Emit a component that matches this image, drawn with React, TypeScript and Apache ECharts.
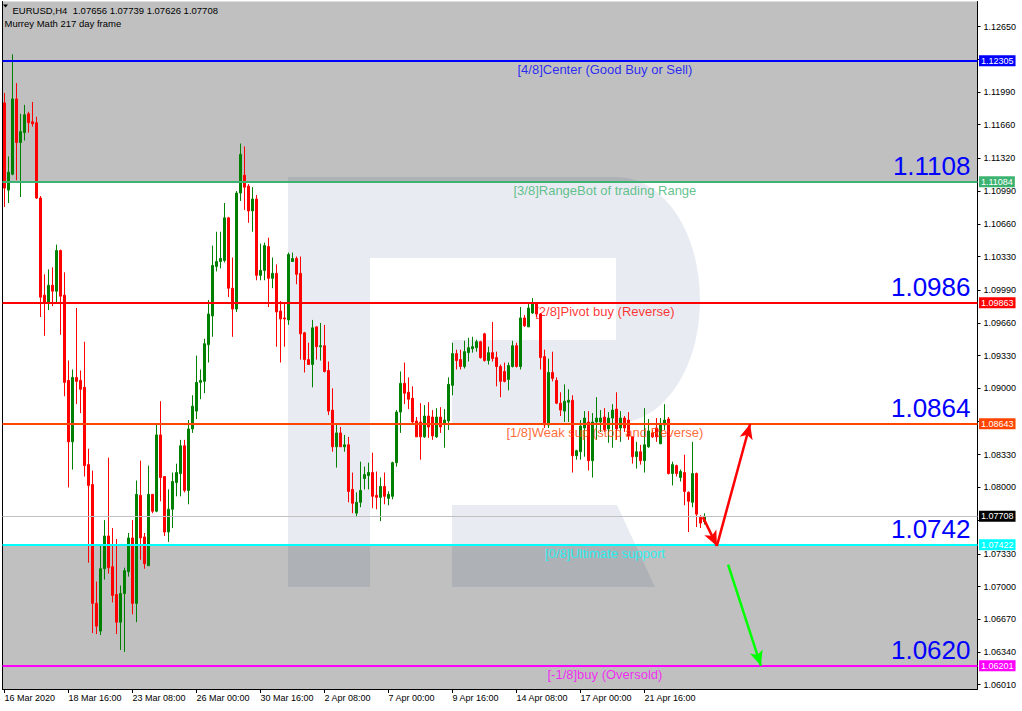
import React, { useEffect, useRef } from "react";
import * as echarts from "echarts";

// EURUSD H4 bars, 16 Mar 2020 00:00 onwards
const OPEN = [
  1.1188, 1.11, 1.1116, 1.1192, 1.1148, 1.1158, 1.1177, 1.1169, 1.1168, 1.1092,
  1.0994, 1.0987, 1.1004, 1.0998, 1.1039, 1.0994, 1.0908, 1.0846, 1.0911, 1.0908,
  1.0901, 1.0823, 1.0803, 1.0683, 1.0655, 1.0718, 1.0751, 1.072, 1.0692, 1.0664,
  1.0693, 1.0715, 1.0749, 1.0683, 1.0792, 1.075, 1.0721, 1.0793, 1.0776, 1.0853,
  1.0811, 1.0755, 1.0778, 1.0805, 1.0814, 1.0842, 1.0797, 1.0859, 1.0877, 1.0906,
  1.0907, 1.0944, 1.0973, 1.1023, 1.1028, 1.1029, 1.1072, 1.1001, 1.098, 1.1097,
  1.1115, 1.1104, 1.1079, 1.1091, 1.1014, 1.1019, 1.1043, 1.1011, 1.1016, 1.0978,
  1.0971, 1.0969, 1.1028, 1.1031, 1.1016, 1.0956, 1.0929, 1.0924, 1.0962, 1.0942,
  1.0943, 1.0918, 1.0878, 1.0841, 1.0855, 1.0841, 1.0843, 1.0798, 1.0774, 1.0785,
  1.0809, 1.0812, 1.0815, 1.0792, 1.079, 1.0801, 1.0789, 1.0791, 1.0825, 1.0876,
  1.0905, 1.0896, 1.089, 1.0867, 1.0866, 1.0851, 1.0872, 1.0871, 1.0851, 1.0871,
  1.0865, 1.0867, 1.0903, 1.0935, 1.0929, 1.0922, 1.0936, 1.094, 1.0941, 1.0947,
  1.0955, 1.0928, 1.0936, 1.0931, 1.0922, 1.0917, 1.0909, 1.0922, 1.0943, 1.0922,
  1.0971, 1.0962, 1.0976, 1.0986, 1.0975, 1.0932, 1.0863, 1.0916, 1.0908, 1.0885,
  1.0877, 1.0886, 1.0888, 1.0832, 1.0836, 1.086, 1.0866, 1.0827, 1.0866, 1.0866,
  1.0871, 1.0859, 1.087, 1.0879, 1.086, 1.087, 1.0868, 1.0851, 1.0831, 1.0836,
  1.0827, 1.0841, 1.0855, 1.086, 1.0844, 1.0863, 1.0869, 1.0814, 1.0822, 1.081,
  1.0815, 1.0795, 1.0785, 1.0814, 1.077, 1.07656,
];
const HIGH = [
  1.1198, 1.1134, 1.1237, 1.1208, 1.1177, 1.1186, 1.1179, 1.1189, 1.1174, 1.1094,
  1.1015, 1.102, 1.1022, 1.1045, 1.104, 1.1017, 1.0928, 1.0919, 1.0981, 1.0918,
  1.0947, 1.0839, 1.0817, 1.0705, 1.0741, 1.0767, 1.083, 1.0759, 1.0748, 1.0701,
  1.0719, 1.0754, 1.0767, 1.0807, 1.0827, 1.0754, 1.0822, 1.0793, 1.0865, 1.0887,
  1.0811, 1.0798, 1.0815, 1.0824, 1.0848, 1.0848, 1.0868, 1.0893, 1.0933, 1.0919,
  1.095, 1.0989, 1.1044, 1.1058, 1.1058, 1.1087, 1.1073, 1.1032, 1.1099, 1.1147,
  1.1144, 1.1106, 1.1103, 1.1095, 1.1046, 1.1047, 1.1052, 1.1032, 1.1025, 1.0988,
  1.0986, 1.1037, 1.1037, 1.1033, 1.1033, 1.0957, 1.0946, 1.0969, 1.0962, 1.0966,
  1.0964, 1.0927, 1.09, 1.0864, 1.0861, 1.0853, 1.0851, 1.0815, 1.0795, 1.0826,
  1.0821, 1.0825, 1.0835, 1.0816, 1.081, 1.0815, 1.0796, 1.0826, 1.0878, 1.0917,
  1.0926, 1.0911, 1.0902, 1.0871, 1.0885, 1.0883, 1.0886, 1.0878, 1.088, 1.0881,
  1.0879, 1.0911, 1.0946, 1.0939, 1.0939, 1.0948, 1.0951, 1.0952, 1.0949, 1.0948,
  1.0956, 1.0942, 1.0967, 1.0937, 1.0924, 1.0926, 1.0926, 1.0948, 1.0946, 1.0982,
  1.0974, 1.0985, 1.0991, 1.0987, 1.0976, 1.0939, 1.093, 1.0937, 1.0911, 1.0896,
  1.0904, 1.0899, 1.0893, 1.0838, 1.0868, 1.0877, 1.0877, 1.0875, 1.0891, 1.0878,
  1.088, 1.0876, 1.0884, 1.0896, 1.0877, 1.0872, 1.0876, 1.0851, 1.0846, 1.0843,
  1.088, 1.0869, 1.0858, 1.087, 1.087, 1.0884, 1.0871, 1.0826, 1.0823, 1.0818,
  1.0833, 1.0796, 1.0846, 1.0815, 1.0772, 1.07739,
];
const LOW = [
  1.1083, 1.1087, 1.1115, 1.111, 1.1093, 1.115, 1.1158, 1.1164, 1.1091, 1.0972,
  1.0953, 1.0979, 1.0983, 1.0986, 1.0954, 1.0892, 1.08, 1.0818, 1.0884, 1.0875,
  1.0811, 1.0724, 1.0653, 1.0652, 1.0651, 1.0707, 1.0713, 1.0684, 1.0652, 1.0636,
  1.0634, 1.071, 1.0672, 1.0664, 1.0727, 1.0718, 1.0721, 1.0774, 1.0775, 1.0786,
  1.0751, 1.0745, 1.0759, 1.0791, 1.0791, 1.0795, 1.0783, 1.0855, 1.0869, 1.0889,
  1.0895, 1.0926, 1.0952, 1.1018, 1.1021, 1.1027, 1.0992, 1.0952, 1.0977, 1.1089,
  1.108, 1.1067, 1.1058, 1.1009, 1.1009, 1.1009, 1.0982, 1.1001, 1.0942, 1.0926,
  1.0942, 1.0964, 1.1028, 1.1005, 1.0929, 1.0916, 1.0924, 1.0901, 1.0929, 1.0928,
  1.0916, 1.0873, 1.0836, 1.082, 1.0841, 1.0836, 1.0785, 1.0774, 1.077, 1.078,
  1.0798, 1.0798, 1.0779, 1.0778, 1.0766, 1.0783, 1.0782, 1.0788, 1.0821, 1.0855,
  1.0884, 1.0879, 1.0865, 1.0851, 1.0828, 1.085, 1.085, 1.0848, 1.085, 1.0855,
  1.084, 1.0858, 1.0893, 1.0919, 1.0919, 1.092, 1.0927, 1.0936, 1.0937, 1.093,
  1.0927, 1.0924, 1.0927, 1.0902, 1.0891, 1.0906, 1.0898, 1.0921, 1.0921, 1.0919,
  1.0962, 1.0962, 1.0975, 1.0972, 1.0919, 1.086, 1.086, 1.0907, 1.0884, 1.0872,
  1.0866, 1.0866, 1.0815, 1.0828, 1.0828, 1.0831, 1.0817, 1.081, 1.0848, 1.0856,
  1.0856, 1.0845, 1.084, 1.0848, 1.0846, 1.0856, 1.0848, 1.0824, 1.0819, 1.0823,
  1.0815, 1.084, 1.085, 1.0846, 1.0844, 1.0858, 1.0813, 1.0802, 1.0811, 1.0806,
  1.0782, 1.0755, 1.078, 1.076, 1.0759, 1.07626,
];
const CLOSE = [
  1.1102, 1.1118, 1.1192, 1.1148, 1.1159, 1.1176, 1.1168, 1.1167, 1.1092, 1.0992,
  1.0987, 1.1004, 1.0998, 1.1039, 1.0993, 1.0906, 1.0846, 1.0911, 1.0907, 1.0899,
  1.0822, 1.0802, 1.0683, 1.066, 1.0718, 1.0751, 1.0719, 1.0691, 1.0664, 1.0693,
  1.0716, 1.0749, 1.0683, 1.0793, 1.0749, 1.0723, 1.0793, 1.0776, 1.0853, 1.081,
  1.0755, 1.0778, 1.0806, 1.0815, 1.0842, 1.0797, 1.0859, 1.0882, 1.0906, 1.0908,
  1.0945, 1.0975, 1.1024, 1.1028, 1.1031, 1.1072, 1.1001, 1.098, 1.1097, 1.1136,
  1.1103, 1.1079, 1.1091, 1.1014, 1.1019, 1.1044, 1.1011, 1.1016, 1.0977, 1.097,
  1.097, 1.1035, 1.1031, 1.1015, 1.0955, 1.0929, 1.0924, 1.0961, 1.0942, 1.0943,
  1.0917, 1.0877, 1.0841, 1.0855, 1.0841, 1.0843, 1.0796, 1.0784, 1.0785, 1.0797,
  1.0813, 1.0815, 1.0791, 1.079, 1.0801, 1.0791, 1.0793, 1.0825, 1.0876, 1.0905,
  1.0895, 1.0889, 1.0866, 1.0851, 1.0851, 1.0872, 1.0861, 1.0852, 1.0871, 1.0861,
  1.0868, 1.0904, 1.0935, 1.0928, 1.0922, 1.0937, 1.0941, 1.0942, 1.0947, 1.0931,
  1.0928, 1.0936, 1.093, 1.0922, 1.0907, 1.0907, 1.0923, 1.0943, 1.0922, 1.0971,
  1.0963, 1.0981, 1.0986, 1.0975, 1.0931, 1.0863, 1.0916, 1.091, 1.0885, 1.0878,
  1.0887, 1.0888, 1.0832, 1.0837, 1.0862, 1.087, 1.0827, 1.0866, 1.087, 1.087,
  1.0858, 1.087, 1.0878, 1.0859, 1.087, 1.086, 1.0852, 1.0831, 1.0836, 1.0827,
  1.0843, 1.0857, 1.0851, 1.0851, 1.0863, 1.0868, 1.0814, 1.0823, 1.0814, 1.0816,
  1.0796, 1.0786, 1.0814, 1.0773, 1.0764, 1.07708,
];

// Time axis: one label every 16 bars
const TIME_LABEL_BARS = [0, 16, 32, 48, 64, 80, 96, 112, 128, 144, 160];
const TIME_LABELS = [
  "16 Mar 2020", "18 Mar 16:00", "23 Mar 08:00", "26 Mar 00:00", "30 Mar 16:00",
  "2 Apr 08:00", "7 Apr 00:00", "9 Apr 16:00", "14 Apr 08:00", "17 Apr 00:00", "21 Apr 16:00",
];

// Price scale: tick marks, and the labels not covered by a level box
const PRICE_TICKS = [
  1.1265, 1.1232, 1.1199, 1.1166, 1.1132, 1.1099, 1.1066, 1.1033, 1.0999, 1.0966,
  1.0933, 1.09, 1.0867, 1.0833, 1.08, 1.0767, 1.0733, 1.07, 1.0667, 1.0634, 1.0601,
];
const PRICE_LABELS = [
  1.1265, 1.1199, 1.1166, 1.1132, 1.1099, 1.1066, 1.1033, 1.0999, 1.0966,
  1.0933, 1.09, 1.0833, 1.08, 1.0733, 1.07, 1.0667, 1.0634, 1.0601,
];

// Murrey Math levels
const LEVEL_PRICES = [1.12305, 1.11084, 1.09863, 1.08643, 1.07422, 1.06201];
const LEVEL_NAMES = [
  "[4/8]Center (Good Buy or Sell)",
  "[3/8]RangeBot of trading Range",
  "[2/8]Pivot buy (Reverse)",
  "[1/8]Weak sup (stop and Reverse)",
  "[0/8]Ultimate support",
  "[-1/8]buy (Oversold)",
];
const LEVEL_COLORS = ["#0000ff", "#3cb371", "#ff0000", "#ff4500", "#00ffff", "#ff00ff"];
const LEVEL_BIG = ["", "1.1108", "1.0986", "1.0864", "1.0742", "1.0620"];
const LEVEL_TEXT_BAR = 150.1;

const LAST_PRICE = 1.07708;

// Forecast arrows: [fromBar, fromPrice, toBar, toPrice]
const RED_ARROWS = [
  [174.6, 1.077, 178.1, 1.0741],
  [178.1, 1.0741, 186.4, 1.0864],
];
const GREEN_ARROWS = [[180.9, 1.0722, 189.1, 1.062]];

// Visible window
const X_MIN = -0.5;
const X_MAX = 243.25;
const Y_MIN = 1.05966;
const Y_MAX = 1.12903;

const FONT = '"Liberation Sans", Arial, sans-serif';

// Broker "R" watermark
const R_MARK =
  "M288 177H616C664 177 700 232 700 300C700 368 664 423 616 423H452V340H616V258H370V587H288Z M452 505H617L655 587H452Z";
echarts.graphic.registerShape("rMark", echarts.graphic.extendPath(R_MARK, {}));

function buildOption() {
  const candles = CLOSE.map((c, i) => [i, OPEN[i], c, LOW[i], HIGH[i]]);

  const axisBox = (text: string, bg: string) => ({
    show: true,
    position: "end",
    formatter: text,
    color: "#fff",
    backgroundColor: bg,
    padding: [1, 2, 0, 2],
    fontSize: 9,
    lineHeight: 10,
    distance: 1.5,
    fontFamily: FONT,
  });

  const levelLines = LEVEL_PRICES.map((p, i) => ({
    yAxis: p,
    lineStyle: { color: LEVEL_COLORS[i], width: 2, type: "solid" },
    label: axisBox(p.toFixed(5), LEVEL_COLORS[i]),
  }));

  const bigLabels = LEVEL_PRICES.map((p, i) => ({
    yAxis: p,
    lineStyle: { color: "rgba(0,0,0,0)", width: 1 },
    label: {
      show: true,
      position: "insideEndTop",
      formatter: LEVEL_BIG[i] || " ",
      color: "#0000ff",
      opacity: 1,
      fontSize: 26,
      fontFamily: FONT,
      distance: [7, 3],
    },
  })).filter((_, i) => !!LEVEL_BIG[i]);

  const lastLine = {
    yAxis: LAST_PRICE,
    lineStyle: { color: "#c0c0c0", width: 1, type: "solid" },
    label: axisBox(LAST_PRICE.toFixed(5), "#000000"),
  };

  const arrow = (a: number[], color: string) => [
    {
      coord: [a[0], a[1]],
      symbol: "none",
      lineStyle: { color, width: 2.5, type: "solid" },
      label: { show: false },
    },
    { coord: [a[2], a[3]], symbol: "arrow", symbolSize: [10, 15] },
  ];

  const arrows = [
    ...RED_ARROWS.map((a) => arrow(a, "#ff0000")),
    ...GREEN_ARROWS.map((a) => arrow(a, "#00ff00")),
  ];

  const last = CLOSE.length - 1;
  const header = `EURUSD,H4  ${OPEN[last].toFixed(5)} ${HIGH[last].toFixed(5)} ${LOW[last].toFixed(5)} ${CLOSE[last].toFixed(5)}`;

  return {
    animation: false,
    textStyle: { fontFamily: FONT },
    grid: { left: 2.5, right: 44.5, top: 1.5, bottom: 22, containLabel: false },
    xAxis: {
      type: "value",
      min: X_MIN,
      max: X_MAX,
      axisLine: { show: true, onZero: false, lineStyle: { color: "#000", width: 1 } },
      axisTick: {
        show: true,
        customValues: TIME_LABEL_BARS,
        length: 4,
        lineStyle: { color: "#000" },
      },
      axisLabel: {
        customValues: TIME_LABEL_BARS,
        formatter: (v: number) => {
          const k = TIME_LABEL_BARS.indexOf(Math.round(v));
          return k >= 0 ? TIME_LABELS[k] : "";
        },
        align: "left",
        margin: 4,
        fontSize: 9,
        color: "#000",
        fontFamily: FONT,
      },
      splitLine: { show: false },
    },
    yAxis: [
      {
        type: "value",
        position: "right",
        min: Y_MIN,
        max: Y_MAX,
        axisLine: { show: true, onZero: false, lineStyle: { color: "#000", width: 1 } },
        axisTick: {
          show: true,
          customValues: PRICE_TICKS,
          length: 3,
          lineStyle: { color: "#000" },
        },
        axisLabel: {
          customValues: PRICE_LABELS,
          formatter: (v: number) => v.toFixed(5),
          margin: 6,
          fontSize: 9,
          color: "#000",
          fontFamily: FONT,
        },
        splitLine: { show: false },
      },
      {
        type: "value",
        position: "left",
        min: Y_MIN,
        max: Y_MAX,
        axisLine: { show: true, onZero: false, lineStyle: { color: "#000", width: 1 } },
        axisTick: { show: false },
        axisLabel: { show: false },
        splitLine: { show: false },
      },
    ],
    graphic: [
      {
        type: "rMark",
        x: 0,
        y: 0,
        z: -10,
        silent: true,
        style: { fill: "#e8ecf2" },
      },
      {
        type: "polygon",
        z: 100,
        silent: true,
        shape: { points: [[3, 4.5], [8, 4.5], [5.5, 7.5]] },
        style: { fill: "#000" },
      },
      {
        type: "text",
        x: 12.5,
        y: 10,
        z: 100,
        silent: true,
        style: { text: header, fill: "#000", fontSize: 9.5, fontFamily: FONT, verticalAlign: "middle" },
      },
      {
        type: "text",
        x: 4.5,
        y: 23.5,
        z: 100,
        silent: true,
        style: {
          text: "Murrey Math 217 day frame",
          fill: "#000",
          fontSize: 9.5,
          fontFamily: FONT,
          verticalAlign: "middle",
        },
      },
    ],
    series: [
      {
        type: "candlestick",
        name: "EURUSD,H4",
        data: candles,
        barWidth: 2,
        silent: true,
        itemStyle: {
          color: "#008000",
          color0: "#ff0000",
          borderColor: "#008000",
          borderColor0: "#ff0000",
          borderWidth: 1,
        },
        markArea: {
          silent: true,
          z: 1,
          itemStyle: { color: "rgba(0,0,0,0.247)", opacity: 1, borderWidth: 0 },
          label: { show: false },
          data: [
            [{ yAxis: LEVEL_PRICES[1] }, { yAxis: Y_MAX }],
            [{ yAxis: Y_MIN }, { yAxis: LEVEL_PRICES[4] }],
          ],
        },
        markLine: {
          silent: true,
          symbol: ["none", "none"],
          precision: 5,
          label: { show: false },
          emphasis: { disabled: true },
          data: [lastLine, ...levelLines, ...bigLabels, ...arrows],
        },
      },
      {
        type: "scatter",
        name: "levels",
        silent: true,
        symbolSize: 1,
        itemStyle: { color: "rgba(0,0,0,0)" },
        z: 3,
        label: {
          show: true,
          position: "bottom",
          distance: 1,
          formatter: "{b}",
          fontSize: 13,
          lineHeight: 14,
          fontFamily: FONT,
        },
        data: LEVEL_PRICES.map((p, i) => ({
          name: LEVEL_NAMES[i],
          value: [LEVEL_TEXT_BAR, p],
          label: { color: LEVEL_COLORS[i] },
        })),
      },
    ],
  };
}

export default function App() {
  const ref = useRef<HTMLDivElement>(null);
  useEffect(() => {
    if (!ref.current) return;
    const chart = echarts.init(ref.current, null, { renderer: "svg" });
    chart.setOption(buildOption() as any);
    return () => chart.dispose();
  }, []);
  return (
    <div
      ref={ref}
      style={{ position: "fixed", left: 0, top: 0, width: 1022, height: 711, background: "#fff" }}
    />
  );
}
